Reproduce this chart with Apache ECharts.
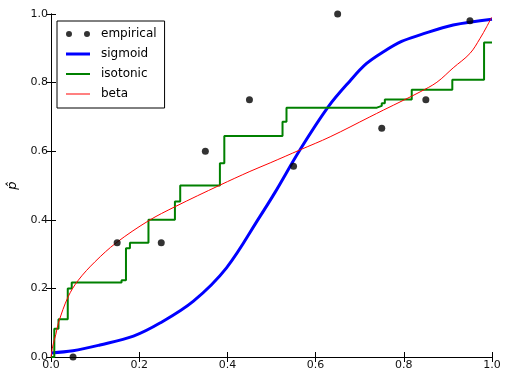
<!DOCTYPE html>
<html>
<head>
<meta charset="utf-8">
<script src="https://cdn.jsdelivr.net/npm/echarts@6/dist/echarts.min.js"></script>
<style>
    html, body { margin: 0; padding: 0; background: #fff; }
    #main { width: 507px; height: 370px; }
</style>
</head>
<body>
<div id="main"></div>
<script>
// empirical points
var empiricalX = [0.05, 0.15, 0.25, 0.35, 0.45, 0.55, 0.65, 0.75, 0.85, 0.95];
var empiricalY = [0.0, 0.333, 0.333, 0.6, 0.75, 0.556, 1.0, 0.667, 0.75, 0.98];

// sigmoid curve
var sigmoidX = [0.0, 0.05, 0.111, 0.187, 0.247, 0.323, 0.398, 0.474, 0.508, 0.565, 0.629, 0.678, 0.715, 0.754, 0.795, 0.837, 0.912, 1.0];
var sigmoidY = [0.012, 0.018, 0.035, 0.061, 0.099, 0.163, 0.26, 0.41, 0.48, 0.605, 0.73, 0.805, 0.855, 0.89, 0.92, 0.939, 0.968, 0.985];

// isotonic steps: x where the level starts, level value
var isoX = [0.0, 0.0075, 0.017, 0.038, 0.047, 0.16, 0.17, 0.179, 0.221, 0.281, 0.293, 0.383, 0.393, 0.525, 0.534, 0.739, 0.75, 0.757, 0.818, 0.91, 0.982, 1.0];
var isoY = [0.0, 0.082, 0.11, 0.2, 0.217, 0.224, 0.317, 0.333, 0.4, 0.453, 0.5, 0.565, 0.644, 0.686, 0.727, 0.732, 0.74, 0.751, 0.779, 0.808, 0.917, 0.917];

// beta calibration curve
var betaX = [0.0, 0.003, 0.007, 0.011, 0.017, 0.039, 0.062, 0.1, 0.148, 0.221, 0.281, 0.383, 0.451, 0.497, 0.565, 0.633, 0.723, 0.754, 0.8, 0.837, 0.875, 0.912, 0.95, 0.973, 0.988, 0.999];
var betaY = [0.0, 0.025, 0.048, 0.066, 0.1, 0.176, 0.224, 0.278, 0.333, 0.397, 0.438, 0.501, 0.541, 0.566, 0.604, 0.642, 0.7, 0.72, 0.749, 0.773, 0.801, 0.843, 0.885, 0.929, 0.963, 0.99];

function zip(xs, ys) {
    var out = [];
    for (var i = 0; i < xs.length; i++) {
        out.push([xs[i], ys[i]]);
    }
    return out;
}

var chart = echarts.init(document.getElementById('main'), null, { renderer: 'canvas' });

var labelFont = {
    fontFamily: 'DejaVu Sans',
    fontSize: 11,
    color: '#111'
};

function axis(pos, showLabel, extra) {
    var a = {
        type: 'value',
        position: pos,
        min: 0,
        max: 1,
        interval: 0.2,
        axisLine: { show: true, lineStyle: { color: '#000', width: 1 } },
        axisTick: { show: true, inside: true, length: 5, lineStyle: { color: '#000' } },
        axisLabel: Object.assign({
            show: showLabel,
            margin: 3,
            formatter: function (v) { return v.toFixed(1); }
        }, labelFont),
        splitLine: { show: false }
    };
    return Object.assign(a, extra || {});
}

var option = {
    animation: false,
    backgroundColor: '#fff',
    grid: {
        left: 51,
        right: 15,
        top: 14,
        bottom: 13,
        outerBoundsMode: 'none'
    },
    legend: {
        orient: 'vertical',
        left: 57,
        top: 21,
        padding: [7, 8, 8, 9],
        itemGap: 8,
        itemWidth: 24,
        itemHeight: 14,
        backgroundColor: '#fff',
        borderColor: '#000',
        borderWidth: 1,
        borderRadius: 0,
        textStyle: {
            fontFamily: 'DejaVu Sans',
            fontSize: 12,
            color: '#000',
            padding: [0, 0, 0, 6]
        },
        data: [
            {
                name: 'empirical',
                icon: 'path://M0,3a3,3 0 1,0 6,0a3,3 0 1,0 -6,0zM18,3a3,3 0 1,0 6,0a3,3 0 1,0 -6,0z',
                itemStyle: { color: '#000' }
            },
            { name: 'sigmoid', icon: 'path://M0,0h24v3h-24z', itemStyle: { color: '#0000ff' } },
            { name: 'isotonic', icon: 'path://M0,0h24v2h-24z', itemStyle: { color: '#008000' } },
            { name: 'beta', icon: 'path://M0,0h24v1h-24z', itemStyle: { color: '#ff0000' } }
        ]
    },
    xAxis: [
        axis('bottom', true),
        axis('top', false)
    ],
    yAxis: [
        axis('left', true, {
            name: 'p\u0302',
            nameLocation: 'middle',
            nameRotate: 90,
            nameGap: 26,
            nameTextStyle: {
                fontFamily: 'DejaVu Sans',
                fontSize: 13,
                fontStyle: 'italic',
                color: '#000'
            }
        }),
        axis('right', false)
    ],
    series: [
        {
            name: 'sigmoid',
            type: 'line',
            data: zip(sigmoidX, sigmoidY),
            smooth: 0.35,
            symbol: 'none',
            lineStyle: { color: '#0000ff', width: 3 },
            itemStyle: { color: '#0000ff' },
            z: 2
        },
        {
            name: 'isotonic',
            type: 'line',
            step: 'end',
            data: zip(isoX, isoY),
            symbol: 'none',
            lineStyle: { color: '#008000', width: 2 },
            itemStyle: { color: '#008000' },
            z: 3
        },
        {
            name: 'beta',
            type: 'line',
            data: zip(betaX, betaY),
            smooth: 0.35,
            symbol: 'none',
            lineStyle: { color: '#ff0000', width: 1 },
            itemStyle: { color: '#ff0000' },
            z: 4
        },
        {
            name: 'empirical',
            type: 'scatter',
            data: zip(empiricalX, empiricalY),
            symbol: 'circle',
            symbolSize: 7,
            itemStyle: { color: '#000' },
            z: 5
        }
    ]
};

chart.setOption(option);
</script>
</body>
</html>
